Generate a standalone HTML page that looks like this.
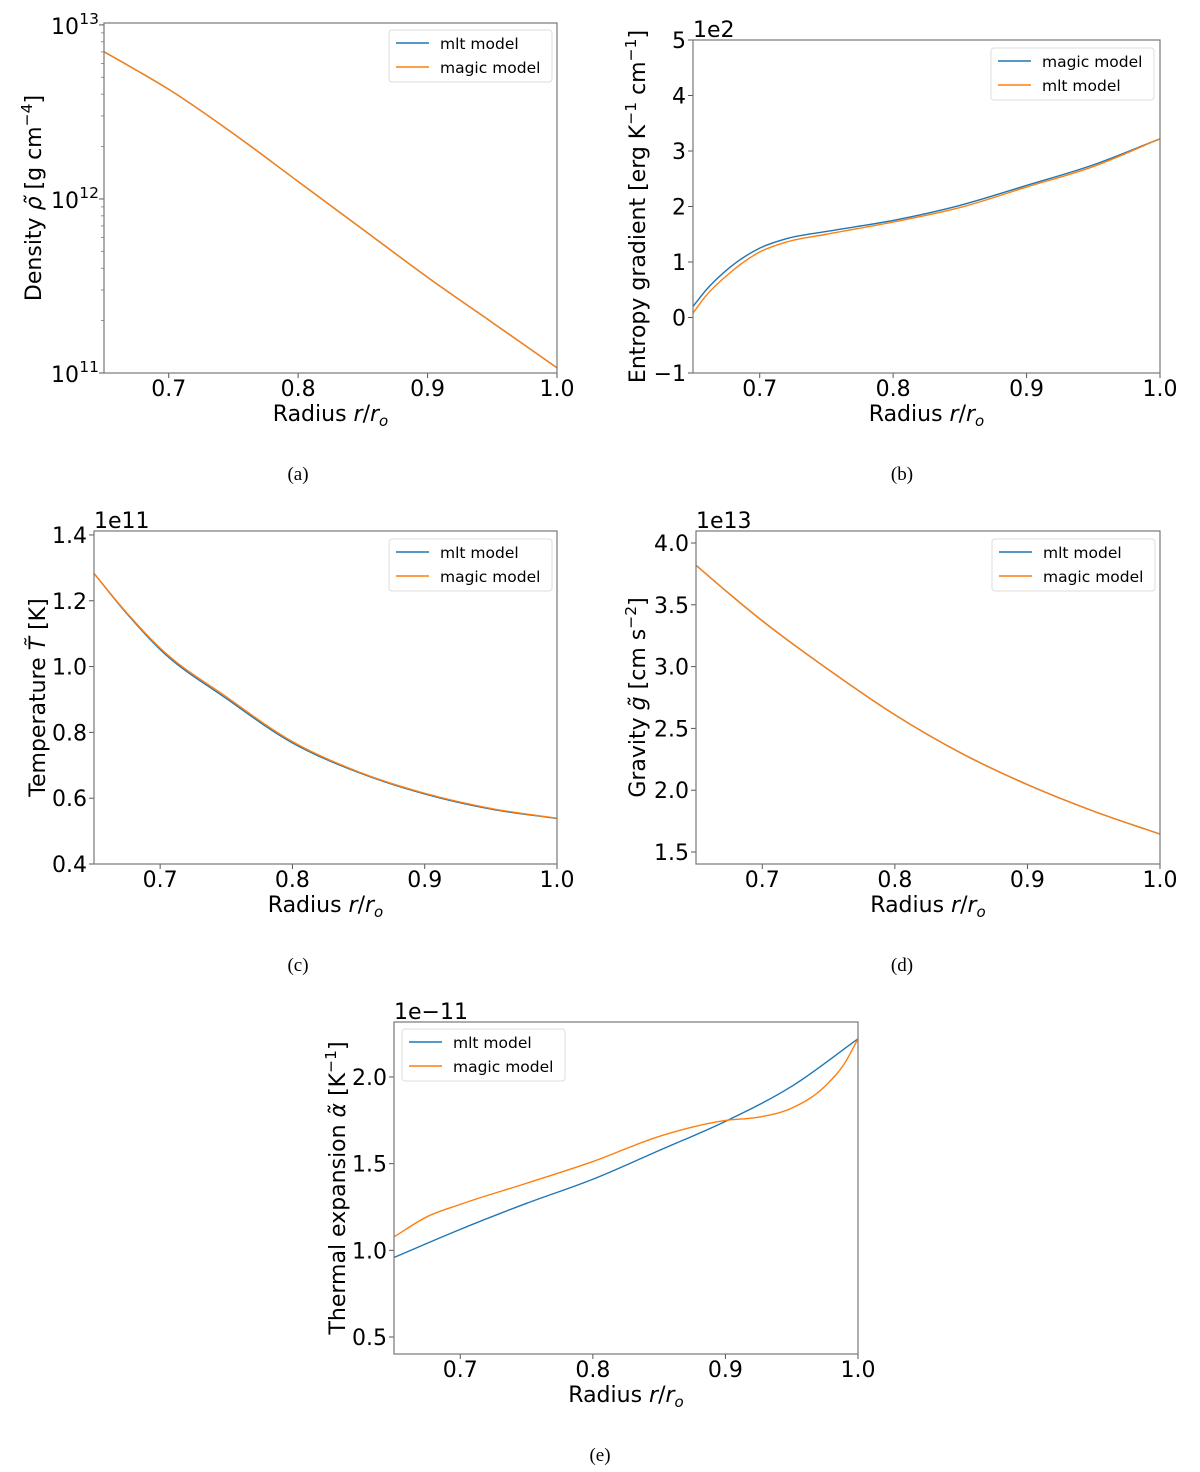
<!DOCTYPE html>
<html><head><meta charset="utf-8"><style>
html,body{margin:0;padding:0;background:#fff;}
svg{display:block;font-family:"DejaVu Sans","Liberation Sans",sans-serif;}
</style></head><body>
<svg id="fig" width="1200" height="1472" viewBox="0 0 1200 1472" xmlns="http://www.w3.org/2000/svg"></svg>
<script>
// ---- shared x data ----
const radiusA = [0.65, 0.675, 0.7, 0.75, 0.8, 0.85, 0.9, 0.95, 1.0];
const xTicks = [0.7, 0.8, 0.9, 1.0];
const xTickLabels = ["0.7", "0.8", "0.9", "1.0"];
// (a) density, log10 values
const densityMlt = [12.846, 12.74, 12.63, 12.375, 12.10, 11.825, 11.55, 11.29, 11.03];
const densityMagic = [12.846, 12.74, 12.63, 12.375, 12.10, 11.825, 11.55, 11.29, 11.03];
// (b) entropy gradient (x1e2)
const radiusB = [0.65, 0.66, 0.675, 0.7, 0.72, 0.75, 0.8, 0.85, 0.9, 0.95, 1.0];
const entropyMagic = [0.2, 0.5, 0.85, 1.25, 1.42, 1.55, 1.75, 2.02, 2.38, 2.75, 3.22];
const entropyMlt = [0.08, 0.4, 0.75, 1.18, 1.36, 1.5, 1.72, 1.98, 2.35, 2.72, 3.22];
const entropyTicks = [-1, 0, 1, 2, 3, 4, 5];
// (c) temperature (x1e11)
const tempMlt = [1.283, 1.16, 1.052, 0.903, 0.768, 0.678, 0.613, 0.567, 0.538];
const tempMagic = [1.283, 1.162, 1.056, 0.908, 0.772, 0.68, 0.615, 0.569, 0.539];
const tempTicks = [0.4, 0.6, 0.8, 1.0, 1.2, 1.4];
// (d) gravity (x1e13)
const gravMlt = [3.82, 3.59, 3.37, 2.975, 2.61, 2.30, 2.045, 1.83, 1.645];
const gravMagic = [3.82, 3.59, 3.37, 2.975, 2.61, 2.30, 2.045, 1.83, 1.645];
const gravTicks = [1.5, 2.0, 2.5, 3.0, 3.5, 4.0];
// (e) thermal expansion (x1e-11)
const radiusE1 = [0.65, 0.7, 0.75, 0.8, 0.85, 0.9, 0.95, 1.0];
const alphaMlt = [0.959, 1.121, 1.271, 1.41, 1.576, 1.744, 1.946, 2.22];
const radiusE2 = [0.65, 0.675, 0.7, 0.75, 0.8, 0.85, 0.9, 0.925, 0.95, 0.975, 0.99, 1.0];
const alphaMagic = [1.078, 1.194, 1.265, 1.387, 1.512, 1.657, 1.749, 1.768, 1.82, 1.946, 2.08, 2.22];
const alphaTicks = [0.5, 1.0, 1.5, 2.0];

const NS = "http://www.w3.org/2000/svg";
const fig = document.getElementById("fig");
const BLUE = "#1f77b4", ORANGE = "#ff7f0e";
function mk(tag, attrs, parent) {
  const e = document.createElementNS(NS, tag);
  for (const k in attrs) e.setAttribute(k, attrs[k]);
  (parent || fig).appendChild(e);
  return e;
}
// non-uniform spline parameterised by x (pixel)
function smoothPath(pts) {
  const n = pts.length, m = [];
  for (let i = 0; i < n; i++) {
    if (i === 0) m.push((pts[1][1] - pts[0][1]) / (pts[1][0] - pts[0][0]));
    else if (i === n - 1) m.push((pts[n - 1][1] - pts[n - 2][1]) / (pts[n - 1][0] - pts[n - 2][0]));
    else {
      const s0 = (pts[i][1] - pts[i - 1][1]) / (pts[i][0] - pts[i - 1][0]);
      const s1 = (pts[i + 1][1] - pts[i][1]) / (pts[i + 1][0] - pts[i][0]);
      const h0 = pts[i][0] - pts[i - 1][0], h1 = pts[i + 1][0] - pts[i][0];
      m.push((s0 * h1 + s1 * h0) / (h0 + h1));
    }
  }
  let d = "M" + pts[0][0].toFixed(2) + "," + pts[0][1].toFixed(2);
  for (let i = 0; i < n - 1; i++) {
    const h = pts[i + 1][0] - pts[i][0];
    const c1x = pts[i][0] + h / 3, c1y = pts[i][1] + m[i] * h / 3;
    const c2x = pts[i + 1][0] - h / 3, c2y = pts[i + 1][1] - m[i + 1] * h / 3;
    d += " C" + c1x.toFixed(2) + "," + c1y.toFixed(2) + " " + c2x.toFixed(2) + "," + c2y.toFixed(2) + " " + pts[i + 1][0].toFixed(2) + "," + pts[i + 1][1].toFixed(2);
  }
  return d;
}

function panel(c) {
  const g = mk("g", {});
  
  
  const X = v => c.L + (v - 0.65) / 0.35 * (c.R - c.L);
  const Y = v => c.B - (v - c.ymin) / (c.ymax - c.ymin) * (c.B - c.T);
  xTicks.forEach((t, i) => {
    mk("line", {x1: X(t), x2: X(t), y1: c.B, y2: c.B + 5, stroke: "#555", "stroke-width": 1}, g);
    const tx = mk("text", {x: X(t), y: c.B + 23, "font-size": 22, "text-anchor": "middle", fill: "#000"}, g);
    tx.textContent = xTickLabels[i];
    
    
  });
  if (c.log) {
    for (let dec = 11; dec <= 13; dec++) {
      mk("line", {x1: c.L - 5, x2: c.L, y1: Y(dec), y2: Y(dec), stroke: "#555", "stroke-width": 1}, g);
      const tx = mk("text", {x: c.L - 25, y: Y(dec) + 9, "font-size": 22, "text-anchor": "end", fill: "#000"}, g);
      tx.textContent = "10";
      
      
      const sp = mk("text", {x: c.L - 5, y: Y(dec) - 1, "font-size": 15.5, "text-anchor": "end", fill: "#000"}, g);
      sp.textContent = String(dec);
      if (dec < 13) for (let mm = 2; mm <= 9; mm++) {
        const v = dec + Math.log10(mm);
        mk("line", {x1: c.L - 3, x2: c.L, y1: Y(v), y2: Y(v), stroke: "#777", "stroke-width": 0.8}, g);
      }
    }
  } else {
    c.ticks.forEach(t => {
      mk("line", {x1: c.L - 5, x2: c.L, y1: Y(t), y2: Y(t), stroke: "#555", "stroke-width": 1}, g);
      const tx = mk("text", {x: c.L - 7, y: Y(t) + 8, "font-size": 22, "text-anchor": "end", fill: "#000"}, g);
      tx.textContent = t < 0 ? "\u2212" + Math.abs(t).toFixed(c.dec) : t.toFixed(c.dec);
      
      
    });
  }
  c.series.forEach(s => {
    const pts = s.x.map((xv, i) => [X(xv), Y(s.y[i])]);
    const p = mk("path", {d: smoothPath(pts), fill: "none", stroke: s.color, "stroke-width": 1.4}, g);
    
    
  });
  const fr = mk("rect", {x: c.L, y: c.T, width: c.R - c.L, height: c.B - c.T, fill: "none", stroke: "#777", "stroke-width": 1.2}, g);
  
  
  if (c.offset) {
    const o = mk("text", {x: c.L, y: c.T - 3, "font-size": 22, fill: "#000"}, g);
    o.textContent = c.offset;
    
    
  }
  const xl = mk("text", {x: (c.L + c.R) / 2, y: c.B + 48, "font-size": 22, "text-anchor": "middle", fill: "#000"}, g);
  xl.innerHTML = 'Radius <tspan font-style="italic">r</tspan>/<tspan font-style="italic">r</tspan><tspan font-style="italic" font-size="15" dy="5">o</tspan>';
  
  
  const yl = mk("text", {x: 0, y: 0, "font-size": 22, "text-anchor": "middle", fill: "#000", transform: "translate(" + c.ylx + "," + ((c.T + c.B) / 2 + c.ydy) + ") rotate(-90)"}, g);
  yl.innerHTML = c.ylabel;
  
  
  const lg = mk("g", {}, g);
  
  
  mk("rect", {x: c.lx, y: c.ly, width: 163, height: 52, rx: 3, fill: "#fff", stroke: "#ddd", "stroke-width": 1}, lg);
  c.legend.forEach((e, i) => {
    const yy = c.ly + 13 + i * 24;
    mk("line", {x1: c.lx + 7, x2: c.lx + 40, y1: yy, y2: yy, stroke: e[1], "stroke-width": 1.4}, lg);
    const t = mk("text", {x: c.lx + 51, y: yy + 6, "font-size": 15.5, fill: "#000"}, lg);
    t.textContent = e[0];
    
    
  });
  const cap = mk("text", {x: c.capx, y: c.capy, "font-size": 19, "text-anchor": "middle", "font-family": "Liberation Serif, serif", fill: "#000"}, g);
  cap.textContent = c.cap;
  
  
}

const sup = t => '<tspan font-size="15.5" dy="-9">' + t + '</tspan><tspan dy="9">';

panel({name: "density-panel", L: 104, R: 557, T: 23, B: 373, log: true, ymin: 11, ymax: 13.011,
  series: [{x: radiusA, y: densityMlt, color: BLUE, dname: "mlt-density-line"}, {x: radiusA, y: densityMagic, color: ORANGE, dname: "magic-density-line"}],
  ylx: 41, ydy: 0, ylabel: 'Density <tspan font-style="italic">ρ̃</tspan> [g cm' + sup('\u22124') + ']</tspan>',
  lx: 389, ly: 30, legend: [["mlt model", BLUE], ["magic model", ORANGE]], capx: 298, capy: 480, cap: "(a)"});

panel({name: "entropy-panel", L: 693, R: 1160, T: 40, B: 373, ymin: -1, ymax: 5, ticks: entropyTicks, dec: 0, offset: "1e2",
  series: [{x: radiusB, y: entropyMagic, color: BLUE, dname: "magic-entropy-line"}, {x: radiusB, y: entropyMlt, color: ORANGE, dname: "mlt-entropy-line"}],
  ylx: 645, ydy: 0, ylabel: 'Entropy gradient [erg K' + sup('\u22121') + ' cm' + sup('\u22121') + ']</tspan></tspan>',
  lx: 991, ly: 48, legend: [["magic model", BLUE], ["mlt model", ORANGE]], capx: 902, capy: 480, cap: "(b)"});

panel({name: "temperature-panel", L: 94, R: 557, T: 531, B: 864, ymin: 0.4, ymax: 1.412, ticks: tempTicks, dec: 1, offset: "1e11",
  series: [{x: radiusA, y: tempMlt, color: BLUE, dname: "mlt-temperature-line"}, {x: radiusA, y: tempMagic, color: ORANGE, dname: "magic-temperature-line"}],
  ylx: 45, ydy: 0, ylabel: 'Temperature <tspan font-style="italic">T̃</tspan> [K]',
  lx: 389, ly: 539, legend: [["mlt model", BLUE], ["magic model", ORANGE]], capx: 298, capy: 971, cap: "(c)"});

panel({name: "gravity-panel", L: 696, R: 1160, T: 531, B: 864, ymin: 1.403, ymax: 4.097, ticks: gravTicks, dec: 1, offset: "1e13",
  series: [{x: radiusA, y: gravMlt, color: BLUE, dname: "mlt-gravity-line"}, {x: radiusA, y: gravMagic, color: ORANGE, dname: "magic-gravity-line"}],
  ylx: 645, ydy: 0, ylabel: 'Gravity <tspan font-style="italic">g̃</tspan> [cm s' + sup('\u22122') + ']</tspan>',
  lx: 992, ly: 539, legend: [["mlt model", BLUE], ["magic model", ORANGE]], capx: 902, capy: 971, cap: "(d)"});

panel({name: "thermal-expansion-panel", L: 394, R: 858, T: 1022, B: 1354, ymin: 0.402, ymax: 2.317, ticks: alphaTicks, dec: 1, offset: "1e\u221211",
  series: [{x: radiusE1, y: alphaMlt, color: BLUE, dname: "mlt-alpha-line"}, {x: radiusE2, y: alphaMagic, color: ORANGE, dname: "magic-alpha-line"}],
  ylx: 345, ydy: 0, ylabel: 'Thermal expansion <tspan font-style="italic">α̃</tspan> [K' + sup('\u22121') + ']</tspan>',
  lx: 402, ly: 1029, legend: [["mlt model", BLUE], ["magic model", ORANGE]], capx: 600, capy: 1461, cap: "(e)"});
</script>
</body></html>
